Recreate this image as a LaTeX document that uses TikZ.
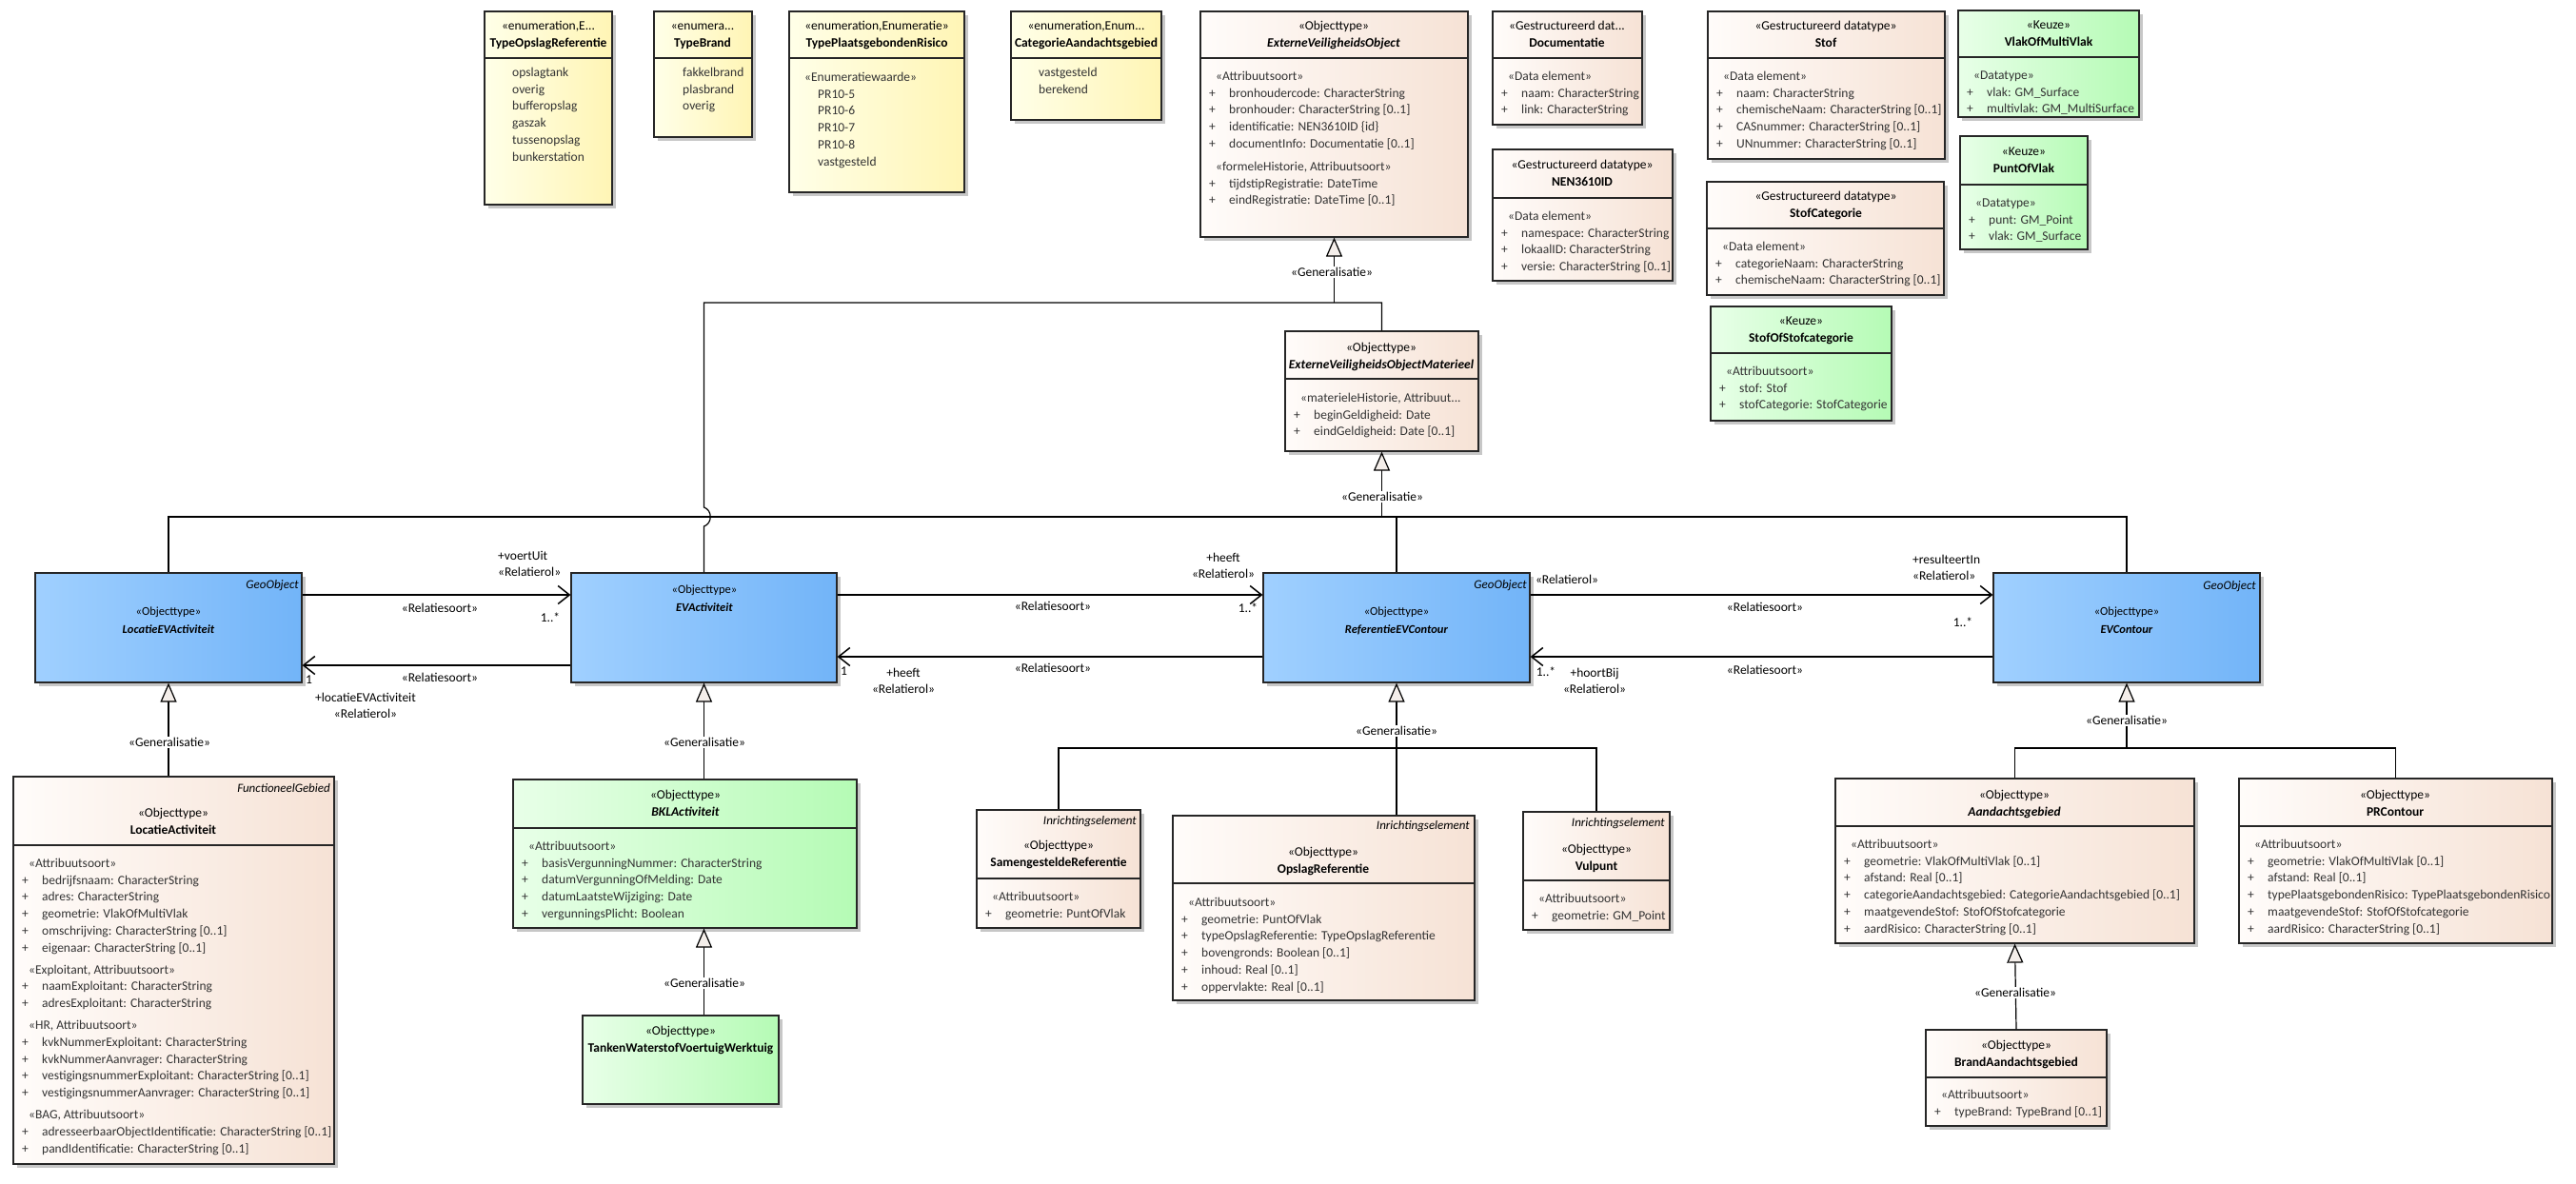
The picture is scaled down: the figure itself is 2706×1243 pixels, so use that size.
\documentclass[tikz,border=0pt]{standalone}
\usepackage{fontspec}
\setmainfont{Carlito}
\usepackage{tikz}
\usetikzlibrary{arrows.meta, fit, shadows}

\definecolor{enumL}{HTML}{FFFFE8}
\definecolor{enumR}{HTML}{FFF5B5}
\definecolor{objL}{HTML}{FFFCFA}
\definecolor{objR}{HTML}{F6E2D5}
\definecolor{blueL}{HTML}{A0D0FF}
\definecolor{blueR}{HTML}{72B4F8}
\definecolor{greenL}{HTML}{E8FFE8}
\definecolor{greenR}{HTML}{B5FBB5}
\definecolor{attrtxt}{HTML}{333333}
\definecolor{isafill}{HTML}{F4EEEA}

\newcommand{\pl}{\makebox[21pt][l]{+}}
\newcommand{\stereo}[1]{\hspace*{7pt}«#1»}
\newcommand{\tstrut}{\rule{0pt}{11pt}}
\newcommand{\bstrut}{\rule{0pt}{10pt}}

\begin{document}
\begin{tikzpicture}[x=1pt, y=-1pt,
  umlbox/.style={draw=black!85, line width=1.2pt, inner sep=0pt,
    drop shadow={shadow xshift=4pt, shadow yshift=-4pt, fill=black!22, opacity=1}},
  enumbox/.style={umlbox, left color=enumL, right color=enumR},
  objbox/.style={umlbox, left color=objL, right color=objR},
  bluebox/.style={umlbox, left color=blueL, right color=blueR},
  greenbox/.style={umlbox, left color=greenL, right color=greenR},
  sepline/.style={draw=black!85, line width=1.2pt},
  hdr/.style={anchor=north, align=center, inner sep=0pt, font=\fontsize{13.5}{18}\selectfont},
  bluehdr/.style={hdr, font=\fontsize{12.5}{18.5}\selectfont},
  attr/.style={anchor=north west, align=left, inner sep=0pt, text=attrtxt,
    font=\fontsize{13.5}{17.8}\selectfont},
  tag/.style={anchor=east, inner sep=0pt, font=\fontsize{13}{16}\selectfont\itshape},
  rel/.style={inner sep=0pt, font=\fontsize{13.5}{17}\selectfont},
  genlabel/.style={fill=white, inner sep=1.5pt, font=\fontsize{13.5}{16}\selectfont},
  genline/.style={line width=1.2pt},
  assoc/.style={line width=1.5pt},
  isa/.tip={Triangle[length=20pt, width=17pt, fill=isafill]},
  nav/.tip={Straight Barb[length=12pt, width=19pt]}
  ]
  \path[fill=white, use as bounding box] (0,0) rectangle (2706,1243);

  % enumerations
  \node[enumbox, fit={(509,12) (643,215)}] (typeopslag) {};
  \draw[sepline] (typeopslag.west |- 0,61) -- (typeopslag.east |- 0,61);
  \node[hdr] at (576,20) {\tstrut«enumeration,E...\\\textbf{TypeOpslagReferentie}};
  \node[attr] at (538,69) {\tstrut opslagtank\\overig\\bufferopslag\\gaszak\\tussenopslag\\bunkerstation};

  \node[enumbox, fit={(687,12) (790,144)}] (typebrand) {};
  \draw[sepline] (typebrand.west |- 0,61) -- (typebrand.east |- 0,61);
  \node[hdr] at (738,20) {\tstrut«enumera...\\\textbf{TypeBrand}};
  \node[attr] at (717,69) {\tstrut fakkelbrand\\plasbrand\\overig};

  \node[enumbox, fit={(829,12) (1013,202)}] (typeplaats) {};
  \draw[sepline] (typeplaats.west |- 0,61) -- (typeplaats.east |- 0,61);
  \node[hdr] at (921,20) {\tstrut«enumeration,Enumeratie»\\\textbf{TypePlaatsgebondenRisico}};
  \node[attr] at (845,74) {\tstrut«Enumeratiewaarde»\\\hspace*{14pt}PR10-5\\\hspace*{14pt}PR10-6\\
    \hspace*{14pt}PR10-7\\\hspace*{14pt}PR10-8\\\hspace*{14pt}vastgesteld};

  \node[enumbox, fit={(1062,12) (1220,126)}] (categorie) {};
  \draw[sepline] (categorie.west |- 0,61) -- (categorie.east |- 0,61);
  \node[hdr] at (1141,20) {\tstrut«enumeration,Enum...\\\textbf{CategorieAandachtsgebied}};
  \node[attr] at (1091,69) {\tstrut vastgesteld\\berekend};

  % top objecttypes and datatypes
  \node[objbox, fit={(1261,12) (1542,249)}] (evo) {};
  \draw[sepline] (evo.west |- 0,61) -- (evo.east |- 0,61);
  \node[hdr] at (1401,20) {\tstrut«Objecttype»\\\textbf{\textit{ExterneVeiligheidsObject}}};
  \node[attr] at (1270,73) {\tstrut\stereo{Attribuutsoort}\\
    \pl bronhoudercode: CharacterString\\
    \pl bronhouder: CharacterString [0..1]\\
    \pl identificatie: NEN3610ID \{id\}\\
    \pl documentInfo: Documentatie [0..1]\\[6pt]
    \stereo{formeleHistorie, Attribuutsoort}\\
    \pl tijdstipRegistratie: DateTime\\
    \pl eindRegistratie: DateTime [0..1]};

  \node[objbox, fit={(1568,12) (1725,131)}] (documentatie) {};
  \draw[sepline] (documentatie.west |- 0,61) -- (documentatie.east |- 0,61);
  \node[hdr] at (1646,20) {\tstrut«Gestructureerd dat...\\\textbf{Documentatie}};
  \node[attr] at (1577,73) {\tstrut\stereo{Data element}\\
    \pl naam: CharacterString\\
    \pl link: CharacterString};

  \node[objbox, fit={(1568,157) (1757,295)}] (nen) {};
  \draw[sepline] (nen.west |- 0,208) -- (nen.east |- 0,208);
  \node[hdr] at (1662,166) {\tstrut«Gestructureerd datatype»\\\textbf{NEN3610ID}};
  \node[attr] at (1577,220) {\tstrut\stereo{Data element}\\
    \pl namespace: CharacterString\\
    \pl lokaalID: CharacterString\\
    \pl versie: CharacterString [0..1]};

  \node[objbox, fit={(1794,12) (2043,167)}] (stof) {};
  \draw[sepline] (stof.west |- 0,61) -- (stof.east |- 0,61);
  \node[hdr] at (1918,20) {\tstrut«Gestructureerd datatype»\\\textbf{Stof}};
  \node[attr] at (1803,73) {\tstrut\stereo{Data element}\\
    \pl naam: CharacterString\\
    \pl chemischeNaam: CharacterString [0..1]\\
    \pl CASnummer: CharacterString [0..1]\\
    \pl UNnummer: CharacterString [0..1]};

  \node[objbox, fit={(1793,191) (2042,310)}] (stofcat) {};
  \draw[sepline] (stofcat.west |- 0,240) -- (stofcat.east |- 0,240);
  \node[hdr] at (1918,199) {\tstrut«Gestructureerd datatype»\\\textbf{StofCategorie}};
  \node[attr] at (1802,252) {\tstrut\stereo{Data element}\\
    \pl categorieNaam: CharacterString\\
    \pl chemischeNaam: CharacterString [0..1]};

  \node[greenbox, fit={(1797,322) (1987,442)}] (stofof) {};
  \draw[sepline] (stofof.west |- 0,371) -- (stofof.east |- 0,371);
  \node[hdr] at (1892,330) {\tstrut«Keuze»\\\textbf{StofOfStofcategorie}};
  \node[attr] at (1806,383) {\tstrut\stereo{Attribuutsoort}\\
    \pl stof: Stof\\
    \pl stofCategorie: StofCategorie};

  \node[greenbox, fit={(2057,11) (2247,123)}] (vlak) {};
  \draw[sepline] (vlak.west |- 0,60) -- (vlak.east |- 0,60);
  \node[hdr] at (2152,19) {\tstrut«Keuze»\\\textbf{VlakOfMultiVlak}};
  \node[attr] at (2066,72) {\tstrut\stereo{Datatype}\\
    \pl vlak: GM\_Surface\\
    \pl multivlak: GM\_MultiSurface};

  \node[greenbox, fit={(2059,143) (2193,262)}] (punt) {};
  \draw[sepline] (punt.west |- 0,194) -- (punt.east |- 0,194);
  \node[hdr] at (2126,152) {\tstrut«Keuze»\\\textbf{PuntOfVlak}};
  \node[attr] at (2068,206) {\tstrut\stereo{Datatype}\\
    \pl punt: GM\_Point\\
    \pl vlak: GM\_Surface};

  \node[objbox, fit={(1350,348) (1553,474)}] (evom) {};
  \draw[sepline] (evom.west |- 0,398) -- (evom.east |- 0,398);
  \node[hdr] at (1451,358) {\tstrut«Objecttype»\\\textbf{\textit{ExterneVeiligheidsObjectMaterieel}}};
  \node[attr] at (1359,411) {\tstrut\hspace*{7pt}«materieleHistorie, Attribuut...\\
    \pl beginGeldigheid: Date\\
    \pl eindGeldigheid: Date [0..1]};

  % blue row
  \node[bluebox, fit={(37,602) (317,717)}] (lev) {};
  \node[tag] at (314,615) {GeoObject};
  \node[bluehdr] at (177,636.5) {\bstrut«Objecttype»\\\textbf{\textit{LocatieEVActiviteit}}};

  \node[bluebox, fit={(600,602) (879,717)}] (eva) {};
  \node[bluehdr] at (740,613.5) {\bstrut«Objecttype»\\\textbf{\textit{EVActiviteit}}};

  \node[bluebox, fit={(1327,602) (1607,717)}] (ref) {};
  \node[tag] at (1604,615) {GeoObject};
  \node[bluehdr] at (1467,636.5) {\bstrut«Objecttype»\\\textbf{\textit{ReferentieEVContour}}};

  \node[bluebox, fit={(2094,602) (2374,717)}] (evc) {};
  \node[tag] at (2370,616) {GeoObject};
  \node[bluehdr] at (2234,636.5) {\bstrut«Objecttype»\\\textbf{\textit{EVContour}}};

  % lower classes
  \node[objbox, fit={(14,816) (351,1223)}] (la) {};
  \draw[sepline] (la.west |- 0,888) -- (la.east |- 0,888);
  \node[tag] at (347,828) {FunctioneelGebied};
  \node[hdr] at (182,847) {\tstrut«Objecttype»\\\textbf{LocatieActiviteit}};
  \node[attr] at (23,900) {\tstrut\stereo{Attribuutsoort}\\
    \pl bedrijfsnaam: CharacterString\\
    \pl adres: CharacterString\\
    \pl geometrie: VlakOfMultiVlak\\
    \pl omschrijving: CharacterString [0..1]\\
    \pl eigenaar: CharacterString [0..1]\\[5pt]
    \stereo{Exploitant, Attribuutsoort}\\
    \pl naamExploitant: CharacterString\\
    \pl adresExploitant: CharacterString\\[5pt]
    \stereo{HR, Attribuutsoort}\\
    \pl kvkNummerExploitant: CharacterString\\
    \pl kvkNummerAanvrager: CharacterString\\
    \pl vestigingsnummerExploitant: CharacterString [0..1]\\
    \pl vestigingsnummerAanvrager: CharacterString [0..1]\\[5pt]
    \stereo{BAG, Attribuutsoort}\\
    \pl adresseerbaarObjectIdentificatie: CharacterString [0..1]\\
    \pl pandIdentificatie: CharacterString [0..1]};

  \node[greenbox, fit={(539,819) (900,975)}] (bkl) {};
  \draw[sepline] (bkl.west |- 0,870) -- (bkl.east |- 0,870);
  \node[hdr] at (720,828) {\tstrut«Objecttype»\\\textbf{\textit{BKLActiviteit}}};
  \node[attr] at (548,882) {\tstrut\stereo{Attribuutsoort}\\
    \pl basisVergunningNummer: CharacterString\\
    \pl datumVergunningOfMelding: Date\\
    \pl datumLaatsteWijziging: Date\\
    \pl vergunningsPlicht: Boolean};

  \node[greenbox, fit={(612,1067) (818,1160)}] (tanken) {};
  \node[hdr] at (715,1076) {\tstrut«Objecttype»\\\textbf{TankenWaterstofVoertuigWerktuig}};

  \node[objbox, fit={(1026,851) (1198,975)}] (samen) {};
  \draw[sepline] (samen.west |- 0,923) -- (samen.east |- 0,923);
  \node[tag] at (1194,863) {Inrichtingselement};
  \node[hdr] at (1112,881) {\tstrut«Objecttype»\\\textbf{SamengesteldeReferentie}};
  \node[attr] at (1035,935) {\tstrut\stereo{Attribuutsoort}\\
    \pl geometrie: PuntOfVlak};

  \node[objbox, fit={(1232,857) (1549,1051)}] (opslag) {};
  \draw[sepline] (opslag.west |- 0,928) -- (opslag.east |- 0,928);
  \node[tag] at (1544,868) {Inrichtingselement};
  \node[hdr] at (1390,888) {\tstrut«Objecttype»\\\textbf{OpslagReferentie}};
  \node[attr] at (1241,941) {\tstrut\stereo{Attribuutsoort}\\
    \pl geometrie: PuntOfVlak\\
    \pl typeOpslagReferentie: TypeOpslagReferentie\\
    \pl bovengronds: Boolean [0..1]\\
    \pl inhoud: Real [0..1]\\
    \pl oppervlakte: Real [0..1]};

  \node[objbox, fit={(1600,853) (1754,977)}] (vulpunt) {};
  \draw[sepline] (vulpunt.west |- 0,925) -- (vulpunt.east |- 0,925);
  \node[tag] at (1749,865) {Inrichtingselement};
  \node[hdr] at (1677,885) {\tstrut«Objecttype»\\\textbf{Vulpunt}};
  \node[attr] at (1609,937) {\tstrut\stereo{Attribuutsoort}\\
    \pl geometrie: GM\_Point};

  \node[objbox, fit={(1928,818) (2305,991)}] (aand) {};
  \draw[sepline] (aand.west |- 0,868) -- (aand.east |- 0,868);
  \node[hdr] at (2116,828) {\tstrut«Objecttype»\\\textbf{\textit{Aandachtsgebied}}};
  \node[attr] at (1937,880) {\tstrut\stereo{Attribuutsoort}\\
    \pl geometrie: VlakOfMultiVlak [0..1]\\
    \pl afstand: Real [0..1]\\
    \pl categorieAandachtsgebied: CategorieAandachtsgebied [0..1]\\
    \pl maatgevendeStof: StofOfStofcategorie\\
    \pl aardRisico: CharacterString [0..1]};

  \node[objbox, fit={(2352,818) (2681,991)}] (prc) {};
  \draw[sepline] (prc.west |- 0,868) -- (prc.east |- 0,868);
  \node[hdr] at (2516,828) {\tstrut«Objecttype»\\\textbf{PRContour}};
  \node[attr] at (2361,880) {\tstrut\stereo{Attribuutsoort}\\
    \pl geometrie: VlakOfMultiVlak [0..1]\\
    \pl afstand: Real [0..1]\\
    \pl typePlaatsgebondenRisico: TypePlaatsgebondenRisico\\
    \pl maatgevendeStof: StofOfStofcategorie\\
    \pl aardRisico: CharacterString [0..1]};

  \node[objbox, fit={(2023,1082) (2213,1183)}] (brand) {};
  \draw[sepline] (brand.west |- 0,1132) -- (brand.east |- 0,1132);
  \node[hdr] at (2118,1091) {\tstrut«Objecttype»\\\textbf{BrandAandachtsgebied}};
  \node[attr] at (2032,1143) {\tstrut\stereo{Attribuutsoort}\\
    \pl typeBrand: TypeBrand [0..1]};

  % relations
  \coordinate (r1) at (0,625);
  \coordinate (r2) at (0,690);
  \coordinate (r3) at (0,699);
  \draw[assoc, -{nav}] (lev.east |- r1) -- (eva.west |- r1);
  \draw[assoc, -{nav}] (eva.west |- r3) -- (lev.east |- r3);
  \draw[assoc, -{nav}] (eva.east |- r1) -- (ref.west |- r1);
  \draw[assoc, -{nav}] (ref.west |- r2) -- (eva.east |- r2);
  \draw[assoc, -{nav}] (ref.east |- r1) -- (evc.west |- r1);
  \draw[assoc, -{nav}] (evc.west |- r2) -- (ref.east |- r2);

  \node[rel] at (462,639) {«Relatiesoort»};
  \node[rel] at (462,712) {«Relatiesoort»};
  \node[rel] at (1106,637) {«Relatiesoort»};
  \node[rel] at (1106,702) {«Relatiesoort»};
  \node[rel] at (1854,638) {«Relatiesoort»};
  \node[rel] at (1854,704) {«Relatiesoort»};

  \node[rel, anchor=north west, align=left] at (523,577) {\tstrut+voertUit\\«Relatierol»};
  \node[rel] at (578,649) {1..*};
  \node[rel, anchor=west] at (321,714) {1};
  \node[rel, anchor=north, align=center] at (384,726) {\tstrut+locatieEVActiviteit\\«Relatierol»};
  \node[rel, anchor=north, align=center] at (1285,579) {\tstrut+heeft\\«Relatierol»};
  \node[rel] at (1311,639) {1..*};
  \node[rel, anchor=west] at (883,705) {1};
  \node[rel, anchor=north, align=center] at (949,700) {\tstrut+heeft\\«Relatierol»};
  \node[rel] at (1646,609) {«Relatierol»};
  \node[rel, anchor=north west, align=left] at (2009,581) {\tstrut+resulteertIn\\«Relatierol»};
  \node[rel] at (2062,654) {1..*};
  \node[rel] at (1624,706) {1..*};
  \node[rel, anchor=north, align=center] at (1675,700) {\tstrut+hoortBij\\«Relatierol»};

  % generalisations
  \coordinate (g1) at (0,318);
  \coordinate (g2) at (0,543);
  \coordinate (g3) at (0,786);
  \coordinate (hop) at (eva.north |- g2);
  \draw[genline] (eva.north) -- ([yshift=-10pt]hop) .. controls +(9,-3) and +(9,3) .. ([yshift=10pt]hop)
    -- (eva.north |- g1) -| (evom.north);
  \draw[genline, -{isa}] (evo.south |- g1) -- (evo.south);
  \draw[genline] (lev.north) |- (evc.north |- g2) -- (evc.north);
  \draw[genline] (ref.north) -- (ref.north |- g2);
  \draw[genline, -{isa}] (evom.south |- g2) -- (evom.south);
  \draw[genline, -{isa}] (lev.south |- la.north) -- (lev.south);
  \draw[genline, -{isa}] (eva.south |- bkl.north) -- (eva.south);
  \draw[genline, -{isa}] (eva.south |- tanken.north) -- (eva.south |- bkl.south);
  \draw[genline] (samen.north) |- (vulpunt.north |- g3) -- (vulpunt.north);
  \draw[genline] (ref.south |- opslag.north) -- (ref.south |- g3);
  \draw[genline, -{isa}] (ref.south |- g3) -- (ref.south);
  \draw[genline] (aand.north) |- (prc.north |- g3) -- (prc.north);
  \draw[genline, -{isa}] (evc.south |- g3) -- (evc.south);
  \draw[genline, -{isa}] (brand.north) -- (aand.south);

  \node[genlabel] at (1399,286) {«Generalisatie»};
  \node[genlabel] at (1452,522) {«Generalisatie»};
  \node[genlabel] at (178,780) {«Generalisatie»};
  \node[genlabel] at (740,780) {«Generalisatie»};
  \node[genlabel] at (740,1033) {«Generalisatie»};
  \node[genlabel] at (1467,768) {«Generalisatie»};
  \node[genlabel] at (2234,757) {«Generalisatie»};
  \node[genlabel] at (2117,1043) {«Generalisatie»};
\end{tikzpicture}
\end{document}
